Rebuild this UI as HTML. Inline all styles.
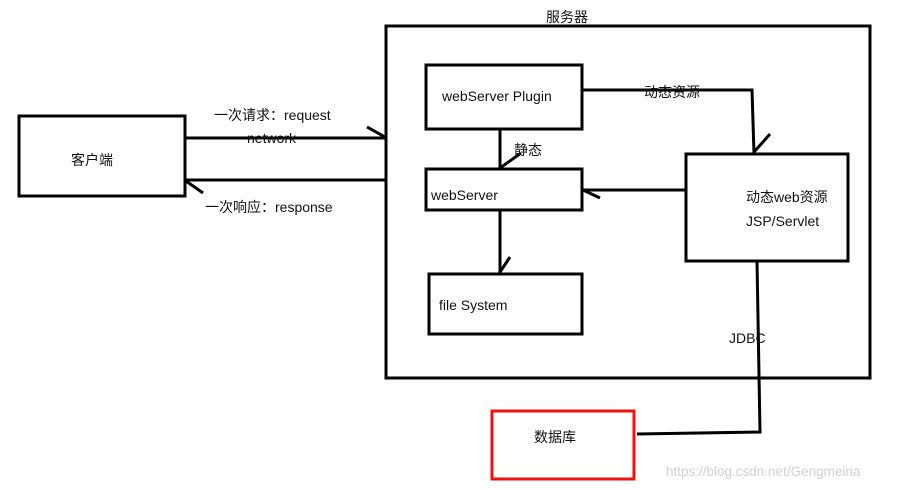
<!DOCTYPE html>
<html><head><meta charset="utf-8"><style>
html,body{margin:0;padding:0;background:#fff;}
svg{display:block;}
text{font-family:"Liberation Sans","Noto Sans CJK SC",sans-serif;font-size:14px;fill:#111;}
</style></head><body>
<svg width="904" height="490" viewBox="0 0 904 490" xmlns="http://www.w3.org/2000/svg">
<g fill="none" stroke="#000" stroke-width="3">
<rect x="19" y="116" width="166" height="80"/>
<rect x="386" y="26" width="484" height="352"/>
<rect x="426" y="65" width="156" height="64"/>
<rect x="426" y="169" width="156" height="41"/>
<rect x="429" y="274" width="153" height="60"/>
<rect x="686" y="154" width="162" height="107"/>
<line x1="185" y1="138" x2="386" y2="138"/>
<line x1="367" y1="127" x2="385" y2="137"/>
<line x1="386" y1="180" x2="186" y2="180"/>
<line x1="186" y1="181" x2="203" y2="193"/>
<line x1="500" y1="129" x2="500" y2="169"/>
<line x1="500" y1="168" x2="521" y2="153"/>
<line x1="500" y1="210" x2="500" y2="274"/>
<line x1="500" y1="272" x2="510" y2="257"/>
<polyline points="582,90 752,90 754,154"/>
<line x1="754" y1="152" x2="770" y2="134"/>
<line x1="686" y1="190" x2="582" y2="190"/>
<line x1="583" y1="190" x2="600" y2="198"/>
<polyline points="757,261 760,432 637,434"/>
</g>
<rect x="492" y="411" width="142" height="68" fill="none" stroke="#e11" stroke-width="3"/>
<text x="546" y="22">服务器</text>
<text x="71" y="165">客户端</text>
<text x="214" y="120">一次请求：request</text>
<text x="247" y="143">network</text>
<text x="205" y="212">一次响应：response</text>
<text x="442" y="101">webServer Plugin</text>
<text x="514" y="155">静态</text>
<text x="431" y="200">webServer</text>
<text x="439" y="310">file System</text>
<text x="644" y="97">动态资源</text>
<text x="746" y="202">动态web资源</text>
<text x="746" y="226">JSP/Servlet</text>
<text x="729" y="343">JDBC</text>
<text x="534" y="442">数据库</text>
<text x="666" y="476" style="fill:#d0d0d0;font-size:13.5px">https://blog.csdn.net/Gengmeina</text>
</svg>
</body></html>
